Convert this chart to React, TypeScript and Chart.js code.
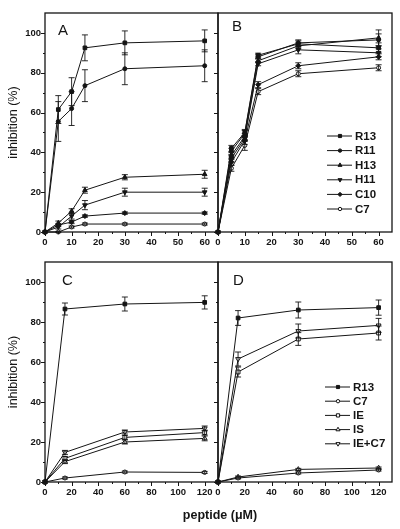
import React, { useEffect, useRef } from 'react';
import { Chart, registerables } from 'chart.js';
import { drawPoint } from 'chart.js/helpers';

Chart.register(...registerables);

// ---------- data ----------
const doseAB = [0, 5, 10, 15, 30, 60];
const doseCD = [0, 15, 60, 120];

// Panel A
const aR13 = [0, 61.5, 70.5, 92.5, 95, 96];
const aR13Err = [0, 7, 7, 6.5, 6, 5.5];
const aR11 = [0, 55.5, 62, 73.5, 82, 83.5];
const aR11Err = [0, 10, 8.5, 8, 8, 8];
const aH13 = [0, 4.5, 10.5, 21, 27.5, 29];
const aH13Err = [0, 1, 1.2, 1.5, 1.3, 2];
const aH11 = [0, 2.5, 8, 13.5, 20, 20];
const aH11Err = [0, 1, 1.5, 2.3, 2, 2];
const aC10 = [0, 3.5, 5, 8, 9.5, 9.5];
const aC10Err = [0, 0.8, 0.8, 0.6, 0.6, 0.6];
const aC7 = [0, 0, 2.5, 4, 4, 4];
const aC7Err = [0, 0.3, 0.5, 0.5, 0.5, 0.5];

// Panel B
const bR13 = [0, 42, 50, 88.8, 94.5, 92.5];
const bR13Err = [0, 1.5, 1.5, 1, 1.5, 2.5];
const bR11 = [0, 40.5, 49.5, 88, 95, 96.5];
const bR11Err = [0, 1.5, 1.5, 1, 1.5, 3];
const bH13 = [0, 38.5, 48, 86, 93.5, 97.5];
const bH13Err = [0, 1.5, 1.5, 1, 1.5, 4];
const bH11 = [0, 37, 47, 84.5, 91.5, 90];
const bH11Err = [0, 1.5, 1.5, 1, 2, 2];
const bC10 = [0, 35, 46, 74, 83.5, 88];
const bC10Err = [0, 1.5, 2, 1.5, 1.5, 1.5];
const bC7 = [0, 32, 43.5, 70.5, 79.5, 82.5];
const bC7Err = [0, 1.5, 2.5, 1.5, 1.5, 1.5];

// Panel C
const cR13 = [0, 86.5, 89, 89.8];
const cR13Err = [0, 3, 3.5, 3.3];
const cC7 = [0, 2, 5, 4.8];
const cC7Err = [0, 0.5, 0.5, 0.5];
const cIE = [0, 11.8, 22.3, 24.7];
const cIEErr = [0, 1, 1, 1.2];
const cIS = [0, 10.2, 20, 21.8];
const cISErr = [0, 1, 1, 1.2];
const cIEC7 = [0, 14.8, 25, 26.8];
const cIEC7Err = [0, 1, 1, 1.2];

// Panel D
const dR13 = [0, 82, 86, 87.2];
const dR13Err = [0, 3.7, 4, 3.8];
const dC7 = [0, 2, 4.5, 6];
const dC7Err = [0, 0.5, 0.5, 0.5];
const dIE = [0, 55, 71.5, 74.5];
const dIEErr = [0, 2.5, 3.2, 3.5];
const dIS = [0, 2.5, 6.3, 7];
const dISErr = [0, 0.5, 0.5, 0.5];
const dIEC7 = [0, 61.5, 75.5, 78.3];
const dIEC7Err = [0, 3.5, 3.5, 3.5];

// ticks
const yTicks = [0, 20, 40, 60, 80, 100];
const yMinorTicks = [10, 30, 50, 70, 90];
const xTicksAB = [0, 10, 20, 30, 40, 50, 60];
const xMinorAB = [5, 15, 25, 35, 45, 55];
const xTicksCD = [0, 20, 40, 60, 80, 100, 120];
const xMinorCD = [10, 30, 50, 70, 90, 110];

const yAxisTitle = 'inhibition (%)';
const xAxisTitle = 'peptide (\u03BCM)';

// ---------- styles ----------
const FONT = "'Liberation Sans', Arial, Helvetica, sans-serif";
const INK = '#151515';

type Marker = { shape: string; rot: number; filled: boolean; r: number };
const markers: Record<string, Marker> = {
  R13: { shape: 'rect', rot: 0, filled: true, r: 2.6 },
  R11: { shape: 'circle', rot: 0, filled: true, r: 2 },
  H13: { shape: 'triangle', rot: 0, filled: true, r: 2.7 },
  H11: { shape: 'triangle', rot: 180, filled: true, r: 2.7 },
  C10: { shape: 'rectRot', rot: 0, filled: true, r: 2.5 },
  C7: { shape: 'circle', rot: 0, filled: false, r: 2 },
  IE: { shape: 'rect', rot: 0, filled: false, r: 2.7 },
  IS: { shape: 'triangle', rot: 0, filled: false, r: 2.8 },
  'IE+C7': { shape: 'triangle', rot: 180, filled: false, r: 2.8 },
};

type Series = { label: string; y: number[]; err: number[] };

const panelA: Series[] = [
  { label: 'R13', y: aR13, err: aR13Err },
  { label: 'R11', y: aR11, err: aR11Err },
  { label: 'H13', y: aH13, err: aH13Err },
  { label: 'H11', y: aH11, err: aH11Err },
  { label: 'C10', y: aC10, err: aC10Err },
  { label: 'C7', y: aC7, err: aC7Err },
];
const panelB: Series[] = [
  { label: 'R13', y: bR13, err: bR13Err },
  { label: 'R11', y: bR11, err: bR11Err },
  { label: 'H13', y: bH13, err: bH13Err },
  { label: 'H11', y: bH11, err: bH11Err },
  { label: 'C10', y: bC10, err: bC10Err },
  { label: 'C7', y: bC7, err: bC7Err },
];
const panelC: Series[] = [
  { label: 'R13', y: cR13, err: cR13Err },
  { label: 'C7', y: cC7, err: cC7Err },
  { label: 'IE', y: cIE, err: cIEErr },
  { label: 'IS', y: cIS, err: cISErr },
  { label: 'IE+C7', y: cIEC7, err: cIEC7Err },
];
const panelD: Series[] = [
  { label: 'R13', y: dR13, err: dR13Err },
  { label: 'C7', y: dC7, err: dC7Err },
  { label: 'IE', y: dIE, err: dIEErr },
  { label: 'IS', y: dIS, err: dISErr },
  { label: 'IE+C7', y: dIEC7, err: dIEC7Err },
];

type PanelCfg = {
  letter: string;
  doses: number[];
  series: Series[];
  xMax: number;
  xTicks: number[];
  xMinor: number[];
  pad: { left: number; top: number; right: number; bottom: number };
  showY: boolean;
  letterPos: [number, number];
  legend?: { dx: number; dy: number; step: number };
  xTitle?: boolean;
};

const W = 400;
const H = 529;

const panels: PanelCfg[] = [
  {
    letter: 'A', doses: doseAB, series: panelA, xMax: 65, xTicks: xTicksAB, xMinor: xMinorAB,
    pad: { left: 0, top: 13, right: 182, bottom: 277 }, showY: true, letterPos: [13, 22],
  },
  {
    letter: 'B', doses: doseAB, series: panelB, xMax: 65, xTicks: xTicksAB, xMinor: xMinorAB,
    pad: { left: 218, top: 13, right: 8, bottom: 277 }, showY: false, letterPos: [14, 18],
    legend: { dx: -65, dy: 123, step: 14.6 },
  },
  {
    letter: 'C', doses: doseCD, series: panelC, xMax: 130, xTicks: xTicksCD, xMinor: xMinorCD,
    pad: { left: 0, top: 262, right: 182, bottom: 27 }, showY: true, letterPos: [17, 23],
  },
  {
    letter: 'D', doses: doseCD, series: panelD, xMax: 130, xTicks: xTicksCD, xMinor: xMinorCD,
    pad: { left: 218, top: 262, right: 8, bottom: 27 }, showY: false, letterPos: [15, 23],
    legend: { dx: -67, dy: 125, step: 14.2 }, xTitle: true,
  },
];

function setMarkerPaint(ctx: CanvasRenderingContext2D, m: Marker) {
  ctx.fillStyle = m.filled ? INK : '#ffffff';
  ctx.strokeStyle = INK;
  ctx.lineWidth = 1;
}

const decoPlugin = {
  id: 'panelDeco',
  afterDatasetsDraw(chart: any, _args: any, opts: any) {
    const ctx: CanvasRenderingContext2D = chart.ctx;
    const xs = chart.scales.x;
    const ys = chart.scales.y;
    const cfg: PanelCfg = opts.cfg;
    ctx.save();
    // error bars
    ctx.strokeStyle = INK;
    ctx.lineWidth = 0.9;
    cfg.series.forEach((s) => {
      s.y.forEach((v, i) => {
        const e = s.err[i];
        if (!e) return;
        const px = xs.getPixelForValue(cfg.doses[i]);
        const top = ys.getPixelForValue(v + e);
        const bot = ys.getPixelForValue(v - e);
        ctx.beginPath();
        ctx.moveTo(px, top);
        ctx.lineTo(px, bot);
        ctx.moveTo(px - 3, top);
        ctx.lineTo(px + 3, top);
        ctx.moveTo(px - 3, bot);
        ctx.lineTo(px + 3, bot);
        ctx.stroke();
      });
    });
    ctx.restore();
  },
  afterDraw(chart: any, _args: any, opts: any) {
    const ctx: CanvasRenderingContext2D = chart.ctx;
    const area = chart.chartArea;
    const xs = chart.scales.x;
    const ys = chart.scales.y;
    const cfg: PanelCfg = opts.cfg;
    ctx.save();
    // frame
    ctx.strokeStyle = INK;
    ctx.lineWidth = 1.3;
    ctx.strokeRect(area.left, area.top, area.right - area.left, area.bottom - area.top);
    // ticks
    ctx.lineWidth = 1;
    ctx.beginPath();
    yTicks.forEach((v) => {
      const py = Math.round(ys.getPixelForValue(v)) + 0.5;
      ctx.moveTo(area.left, py);
      ctx.lineTo(area.left - 4, py);
    });
    yMinorTicks.forEach((v) => {
      const py = Math.round(ys.getPixelForValue(v)) + 0.5;
      ctx.moveTo(area.left, py);
      ctx.lineTo(area.left - 2, py);
    });
    cfg.xTicks.forEach((v) => {
      const px = Math.round(xs.getPixelForValue(v)) + 0.5;
      ctx.moveTo(px, area.bottom);
      ctx.lineTo(px, area.bottom + 4);
    });
    cfg.xMinor.forEach((v) => {
      const px = Math.round(xs.getPixelForValue(v)) + 0.5;
      ctx.moveTo(px, area.bottom);
      ctx.lineTo(px, area.bottom + 2);
    });
    ctx.stroke();
    // panel letter
    ctx.fillStyle = INK;
    ctx.font = `15px ${FONT}`;
    ctx.textAlign = 'left';
    ctx.textBaseline = 'alphabetic';
    ctx.fillText(cfg.letter, area.left + cfg.letterPos[0], area.top + cfg.letterPos[1]);
    // legend
    if (cfg.legend) {
      const lx = area.right + cfg.legend.dx;
      cfg.series.forEach((s, i) => {
        const ly = area.top + cfg.legend!.dy + i * cfg.legend!.step;
        ctx.strokeStyle = INK;
        ctx.lineWidth = 1;
        ctx.beginPath();
        ctx.moveTo(lx, ly);
        ctx.lineTo(lx + 25, ly);
        ctx.stroke();
        const m = markers[s.label];
        setMarkerPaint(ctx, m);
        drawPoint(ctx, { pointStyle: m.shape as any, rotation: m.rot, radius: m.r * 0.85, borderWidth: 1 } as any, lx + 13, ly);
        ctx.fillStyle = INK;
        ctx.font = `bold 11.5px ${FONT}`;
        ctx.textBaseline = 'middle';
        ctx.textAlign = 'left';
        ctx.fillText(s.label, lx + 28, ly + 0.5);
      });
    }
    if (cfg.xTitle) {
      ctx.fillStyle = INK;
      ctx.font = `bold 12.5px ${FONT}`;
      ctx.textAlign = 'center';
      ctx.textBaseline = 'alphabetic';
      ctx.fillText(xAxisTitle, area.left + 2, area.bottom + 37);
    }
    ctx.restore();
  },
};

function buildChart(canvas: HTMLCanvasElement, cfg: PanelCfg) {
  const tickFont = { family: FONT, size: 9.5, weight: 'bold' as const };
  return new Chart(canvas, {
    type: 'line',
    data: {
      datasets: cfg.series.map((s) => {
        const m = markers[s.label];
        return {
          label: s.label,
          data: cfg.doses.map((d, i) => ({ x: d, y: s.y[i] })),
          borderColor: INK,
          borderWidth: 1,
          pointStyle: m.shape as any,
          pointRotation: m.rot,
          pointRadius: m.r,
          pointBackgroundColor: m.filled ? INK : '#ffffff',
          pointBorderColor: INK,
          pointBorderWidth: 1,
          fill: false,
          tension: 0,
          clip: false as any,
        };
      }),
    },
    options: {
      responsive: false,
      animation: false,
      events: [],
      layout: { padding: cfg.pad },
      plugins: {
        legend: { display: false },
        tooltip: { enabled: false },
        panelDeco: { cfg },
      } as any,
      scales: {
        x: {
          type: 'linear',
          min: 0,
          max: cfg.xMax,
          afterBuildTicks: (s: any) => {
            s.ticks = cfg.xTicks.map((v) => ({ value: v }));
          },
          afterFit: (s: any) => {
            s.height = 20;
          },
          grid: { display: false, drawTicks: false },
          border: { display: false },
          ticks: {
            font: tickFont,
            color: INK,
            padding: 5,
            maxRotation: 0,
            autoSkip: false,
            callback: (v: any) => String(v),
          },
        },
        y: {
          type: 'linear',
          min: 0,
          max: 110,
          afterBuildTicks: (s: any) => {
            s.ticks = yTicks.map((v) => ({ value: v }));
          },
          afterFit: (s: any) => {
            s.width = cfg.showY ? 45 : 0;
          },
          grid: { display: false, drawTicks: false },
          border: { display: false },
          ticks: {
            display: cfg.showY,
            font: tickFont,
            color: INK,
            padding: 4,
            callback: (v: any) => String(v),
          },
          title: {
            display: cfg.showY,
            text: yAxisTitle,
            color: INK,
            font: { family: FONT, size: 12.5 },
            padding: { top: 6, bottom: 0 },
          },
        },
      },
    } as any,
    plugins: [decoPlugin],
  });
}

export default function App() {
  const r0 = useRef<HTMLCanvasElement>(null);
  const r1 = useRef<HTMLCanvasElement>(null);
  const r2 = useRef<HTMLCanvasElement>(null);
  const r3 = useRef<HTMLCanvasElement>(null);

  useEffect(() => {
    const refs = [r0, r1, r2, r3];
    const charts = refs.map((r, i) => buildChart(r.current as HTMLCanvasElement, panels[i]));
    return () => {
      charts.forEach((c) => c.destroy());
    };
  }, []);

  const canvasStyle: React.CSSProperties = { position: 'absolute', left: 0, top: 0, width: W, height: H };
  return (
    <div style={{ position: 'absolute', left: 0, top: 0, width: W, height: H, background: '#ffffff' }}>
      <canvas ref={r0} width={W} height={H} style={canvasStyle} />
      <canvas ref={r1} width={W} height={H} style={canvasStyle} />
      <canvas ref={r2} width={W} height={H} style={canvasStyle} />
      <canvas ref={r3} width={W} height={H} style={canvasStyle} />
    </div>
  );
}
